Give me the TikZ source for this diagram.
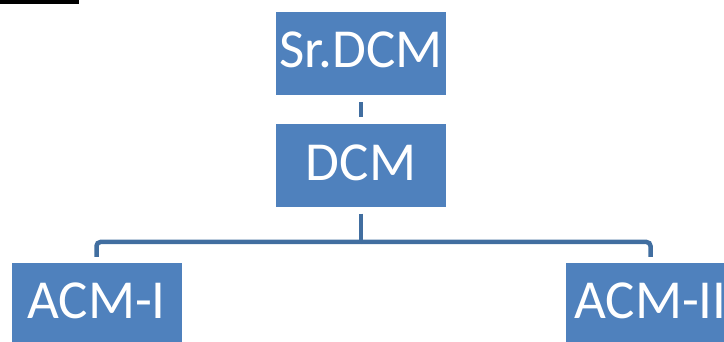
\documentclass[tikz,border=0pt]{standalone}
\usepackage{fontspec}
\setmainfont{Carlito}
\definecolor{boxblue}{RGB}{79,129,189}
\definecolor{lineblue}{RGB}{65,110,160}
\begin{document}
\begin{tikzpicture}[x=1pt,y=1pt,
  orgbox/.style={fill=boxblue, text=white, minimum width=170pt, minimum height=83pt,
    inner sep=0pt, text height=36pt, text depth=7pt, font=\fontsize{55pt}{62pt}\selectfont},
  conn/.style={draw=lineblue, line width=4.5pt, rounded corners=4pt}]
\useasboundingbox (0,0) rectangle (724,-342);
\fill[black] (0,0) rectangle (79,-4);
\node[orgbox] (sr) at (361,-53.5) {Sr.DCM};
\node[orgbox] (dcm) at (361,-166) {DCM};
\node[orgbox] (acm1) at (96.5,-304.5) {ACM-I};
\node[orgbox] (acm2) at (650.5,-304.5) {ACM-II};
\draw[conn] ([yshift=-7pt]sr.south) -- ([yshift=7pt]dcm.north);
\coordinate (hub) at (361,-242);
\draw[conn] ([yshift=-6pt]dcm.south) -- (hub);
\draw[conn] (hub) -| ([yshift=6pt]acm1.north);
\draw[conn] (hub) -| ([yshift=6pt]acm2.north);
\end{tikzpicture}
\end{document}
